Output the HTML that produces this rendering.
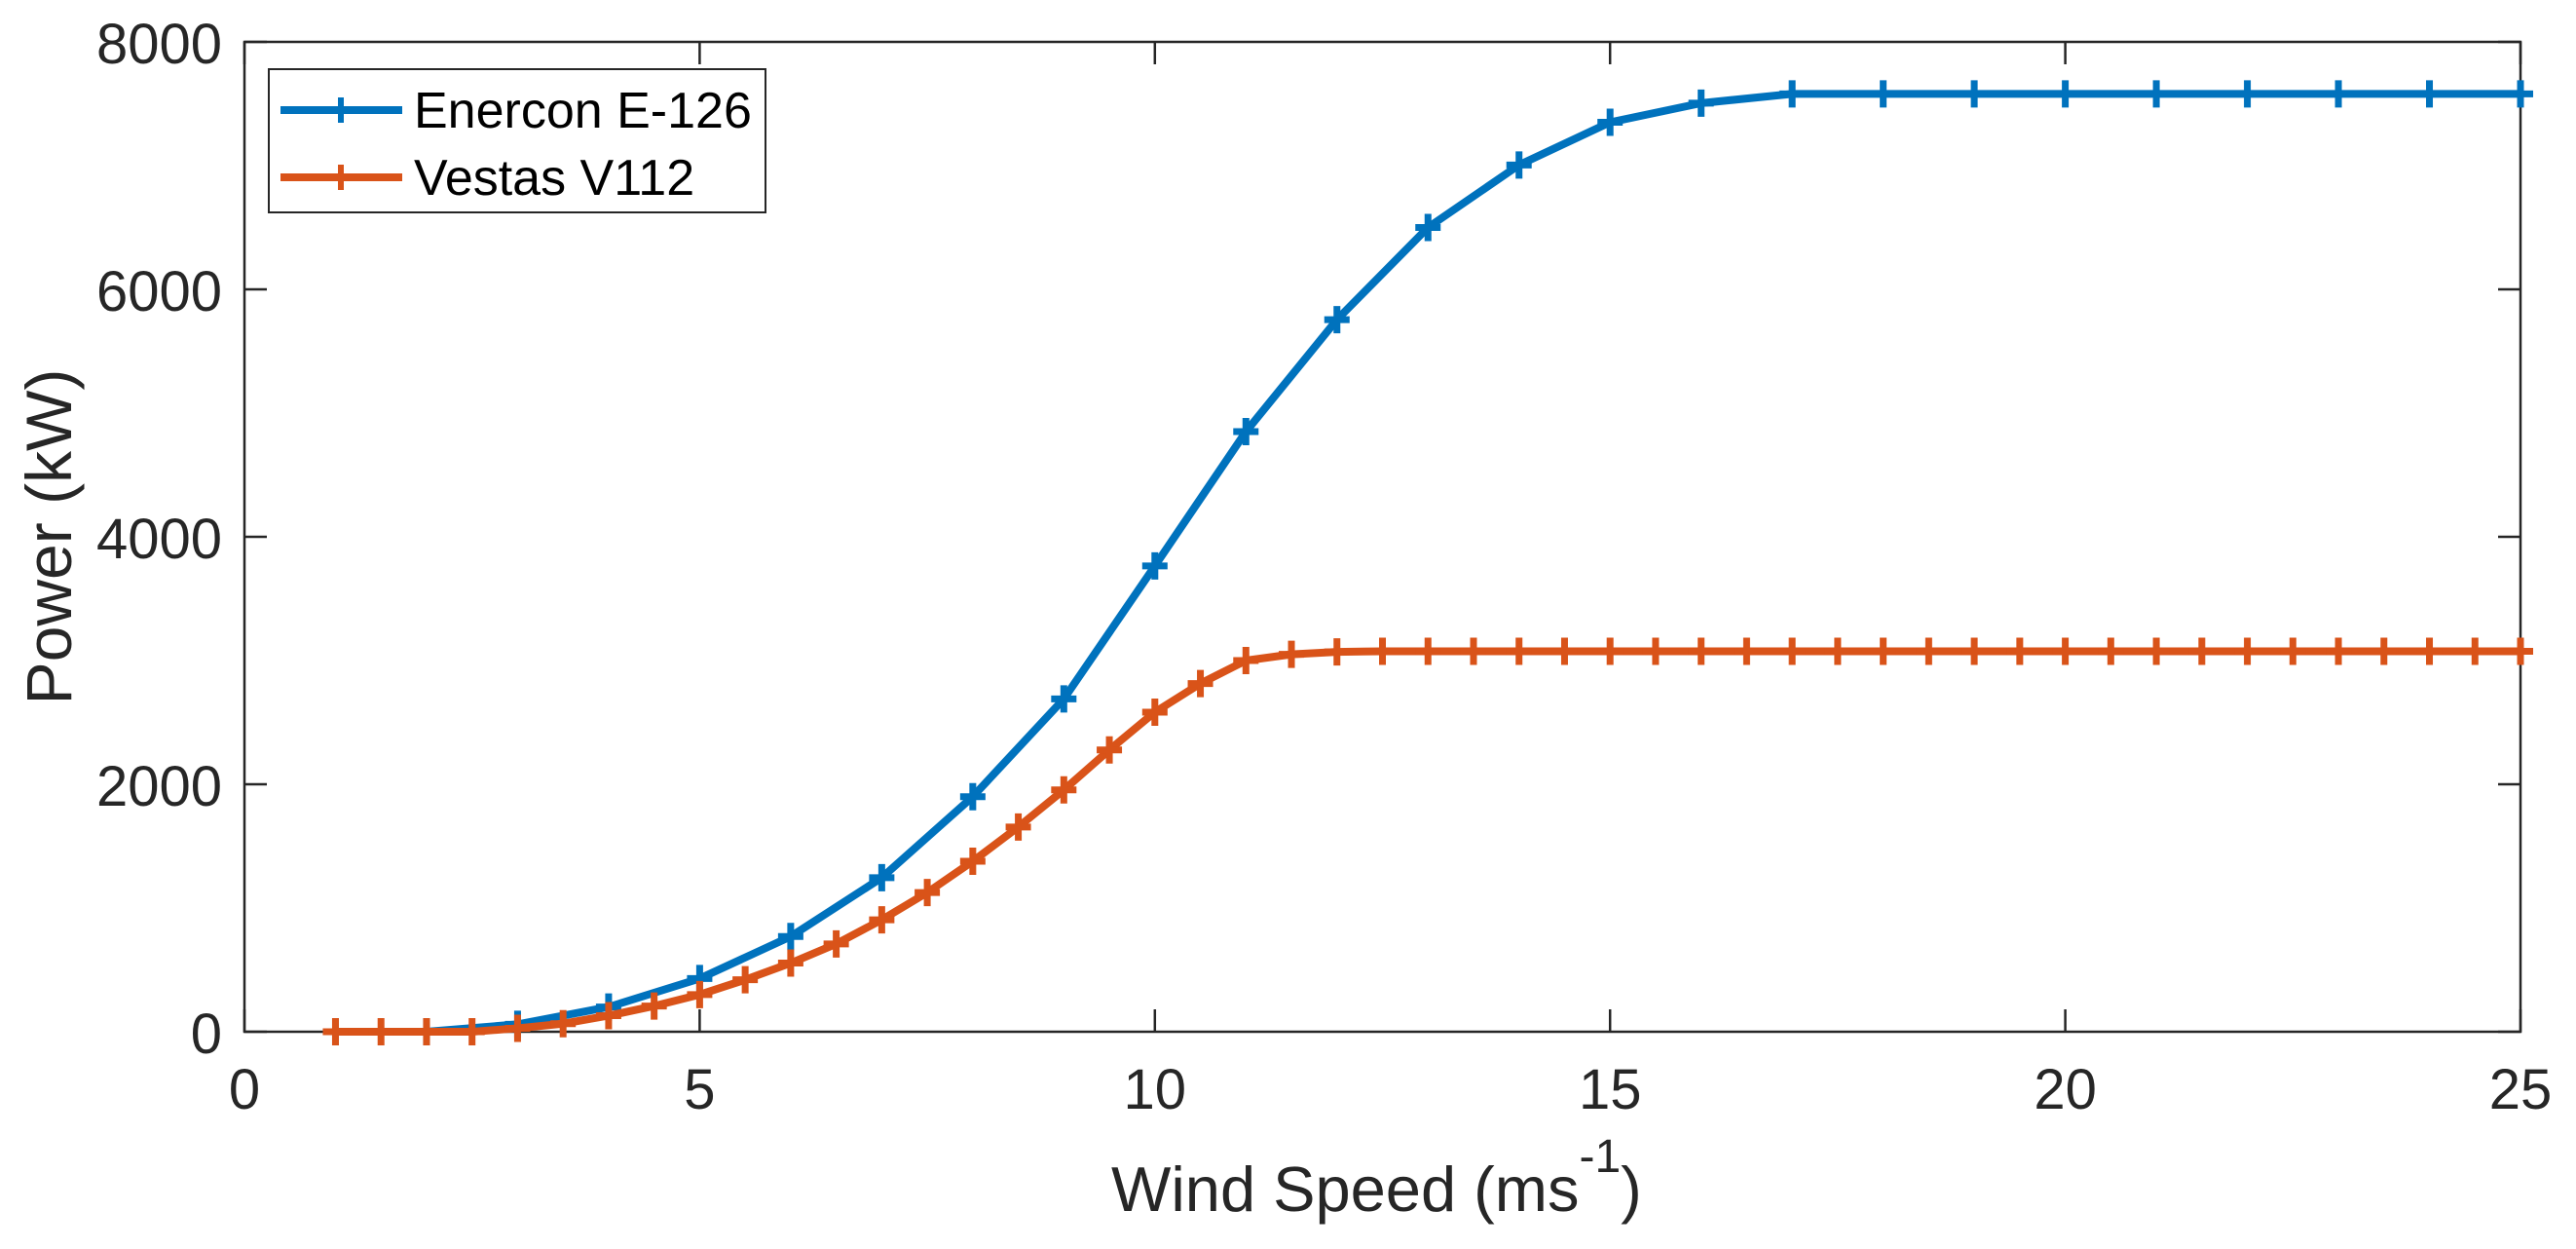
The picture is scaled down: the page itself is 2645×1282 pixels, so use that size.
<!DOCTYPE html>
<html><head><meta charset="utf-8"><style>
html,body{margin:0;padding:0;background:#fff;}
svg{display:block;font-family:"Liberation Sans",Arial,sans-serif;}
</style></head><body>
<svg id="chart" width="2645" height="1282" viewBox="0 0 2645 1282" xmlns="http://www.w3.org/2000/svg">
<rect width="2645" height="1282" fill="#fff"/>
<g id="plot"></g>
<text transform="translate(73,551) rotate(-90)" text-anchor="middle" font-size="66" fill="#262626">Power (kW)</text>
<text x="1141" y="1243" font-size="65" fill="#262626">Wind Speed (ms<tspan dy="-40" font-size="48">-1</tspan><tspan dy="40">)</tspan></text>
<g>
<rect x="276" y="71" width="510" height="147" fill="#fff" stroke="#262626" stroke-width="2"/>
<g>
<line x1="288" y1="113" x2="413" y2="113" stroke="#0072BD" stroke-width="8"/>
<line x1="350" y1="100" x2="350" y2="126" stroke="#0072BD" stroke-width="6"/>
<text x="425" y="131" font-size="52" fill="#000">Enercon E-126</text>
</g>
<g>
<line x1="288" y1="182" x2="413" y2="182" stroke="#D95319" stroke-width="8"/>
<line x1="350" y1="169" x2="350" y2="195" stroke="#D95319" stroke-width="6"/>
<text x="425" y="200" font-size="52" fill="#000">Vestas V112</text>
</g>
</g>
</svg>
<script>
const enerconX = [1,2,3,4,5,6,7,8,9,10,11,12,13,14,15,16,17,18,19,20,21,22,23,24,25];
const enerconY = [0,0,60,200,430,770,1245,1900,2690,3765,4850,5755,6500,7005,7350,7505,7580,7580,7580,7580,7580,7580,7580,7580,7580];
const vestasX = [1,1.5,2,2.5,3,3.5,4,4.5,5,5.5,6,6.5,7,7.5,8,8.5,9,9.5,10,10.5,11,11.5,12,12.5,13,13.5,14,14.5,15,15.5,16,16.5,17,17.5,18,18.5,19,19.5,20,20.5,21,21.5,22,22.5,23,23.5,24,24.5,25];
const vestasY = [0,0,0,0,28,65,130,208,300,420,555,710,905,1125,1378,1655,1955,2278,2583,2814,3000,3050,3070,3075,3075,3075,3075,3075,3075,3075,3075,3075,3075,3075,3075,3075,3075,3075,3075,3075,3075,3075,3075,3075,3075,3075,3075,3075,3075];
const xTicks = [0,5,10,15,20,25];
const yTicks = [0,2000,4000,6000,8000];

const L=251,R=2588,T=43,B=1059;
const xs = v => L + (v-0)/(25-0)*(R-L);
const ys = v => B - (v-0)/(8000-0)*(B-T);
const NS="http://www.w3.org/2000/svg";
const plot=document.getElementById('plot');
function mk(tag,attrs,parent){const e=document.createElementNS(NS,tag);for(const k in attrs)e.setAttribute(k,attrs[k]);(parent||plot).appendChild(e);return e;}

const ax=mk('rect',{x:L,y:T,width:R-L,height:B-T,fill:'none',stroke:'#262626','stroke-width':2.5});



xTicks.forEach(t=>{
  const x=xs(t);
  const g=mk('g',{});
  
  
  mk('line',{x1:x,y1:B,x2:x,y2:B-23,stroke:'#262626','stroke-width':2.5},g);
  mk('line',{x1:x,y1:T,x2:x,y2:T+23,stroke:'#262626','stroke-width':2.5},g);
  const tx=mk('text',{x:x,y:1138,'text-anchor':'middle','font-size':58,fill:'#262626'},g);
  tx.textContent=t;
});
yTicks.forEach(t=>{
  const y=ys(t);
  const g=mk('g',{});
  
  
  mk('line',{x1:L,y1:y,x2:L+23,y2:y,stroke:'#262626','stroke-width':2.5},g);
  mk('line',{x1:R,y1:y,x2:R-23,y2:y,stroke:'#262626','stroke-width':2.5},g);
  const tx=mk('text',{x:228,y:y+22,'text-anchor':'end','font-size':58,fill:'#262626'},g);
  tx.textContent=t;
});

function series(xa,ya,color,name){
  const g=mk('g',{});
  
  
  const pts=xa.map((x,i)=>xs(x)+','+ys(ya[i])).join(' ');
  const pl=mk('polyline',{points:pts,fill:'none',stroke:color,'stroke-width':8,'stroke-linejoin':'round'},g);
  
  
  xa.forEach((x,i)=>{
    const cx=xs(x),cy=ys(ya[i]);
    const m=mk('path',{d:`M${cx-13},${cy}H${cx+13}M${cx},${cy-14}V${cy+14}`,stroke:color,'stroke-width':7,fill:'none'},g);
    
    
  });
}
series(enerconX,enerconY,'#0072BD','enercon');
series(vestasX,vestasY,'#D95319','vestas');
</script>
</body></html>
